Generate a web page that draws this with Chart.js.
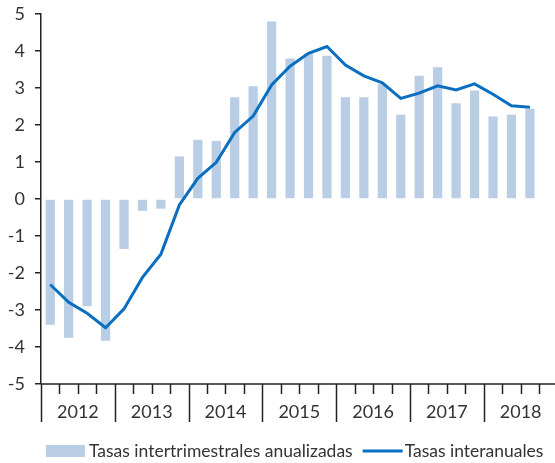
<!DOCTYPE html>
<html>
<head>
<meta charset="utf-8">
<script src="https://cdn.jsdelivr.net/npm/chart.js@4"></script>
<style>
  html, body { margin: 0; padding: 0; background: #fff; }
</style>
</head>
<body>
<canvas id="chart" width="555" height="463"></canvas>
<script>
// Data (quarterly, 2012 T1 - 2018 T3)
const years = ['2012', '2013', '2014', '2015', '2016', '2017', '2018'];
const quarterNames = ['T1', 'T2', 'T3', 'T4'];
const quarters = years.flatMap(y => quarterNames.map(q => q + ' ' + y)).slice(0, 27);
const quarterlyRates = [-3.4, -3.75, -2.9, -3.83, -1.35, -0.32, -0.26, 1.15,
  1.6, 1.57, 2.75, 3.05, 4.8, 3.8, 3.93, 3.87,
  2.75, 2.75, 3.1, 2.28, 3.33, 3.56, 2.59, 2.93,
  2.23, 2.28, 2.44];
const yearlyRates = [-2.31, -2.79, -3.09, -3.48, -2.97, -2.12, -1.49, -0.16,
  0.56, 0.99, 1.8, 2.24, 3.08, 3.59, 3.94, 4.12,
  3.62, 3.33, 3.14, 2.72, 2.86, 3.06, 2.95, 3.11,
  2.83, 2.52, 2.48];
const yTicks = [-5, -4, -3, -2, -1, 0, 1, 2, 3, 4, 5];

const FONT = 'Lato';
const TEXT = '#333';
const AXIS = '#222';

// x axis: short ticks per quarter, long ones between years, year labels in the middle
const quarterAxis = {
  id: 'quarterAxis',
  afterDraw(chart) {
    const { ctx, chartArea } = chart;
    const x = chart.scales.x;
    const bottom = chartArea.bottom;
    ctx.save();
    ctx.strokeStyle = AXIS;
    ctx.lineWidth = 1.5;
    ctx.beginPath();
    ctx.moveTo(chartArea.left, bottom);
    ctx.lineTo(chartArea.right, bottom);
    for (let q = 0; q < years.length * 4; q++) {
      const px = Math.round(x.getPixelForValue(q - 0.5)) + 0.5;
      const len = q % 4 === 0 ? 38 : 10;
      ctx.moveTo(px, bottom);
      ctx.lineTo(px, bottom + len);
    }
    ctx.stroke();

    ctx.fillStyle = TEXT;
    ctx.font = '18px ' + FONT;
    ctx.textAlign = 'center';
    ctx.textBaseline = 'middle';
    years.forEach((yr, i) => {
      ctx.fillText(yr, x.getPixelForValue(i * 4 + 1.5), bottom + 28);
    });
    ctx.restore();
  }
};

// legend drawn under the axis
const bottomLegend = {
  id: 'bottomLegend',
  afterDraw(chart) {
    const { ctx } = chart;
    const bars = chart.data.datasets.find(d => d.type === 'bar');
    const line = chart.data.datasets.find(d => d.type === 'line');
    const cy = 451;
    let cx = 46;
    ctx.save();
    ctx.font = '17.5px ' + FONT;
    ctx.textBaseline = 'middle';
    ctx.textAlign = 'left';

    ctx.fillStyle = bars.backgroundColor;
    ctx.fillRect(cx, cy - 6, 39, 12);
    cx += 43;
    ctx.fillStyle = TEXT;
    ctx.fillText(bars.label, cx, cy);
    cx += ctx.measureText(bars.label).width + 10;

    ctx.strokeStyle = line.borderColor;
    ctx.lineWidth = 3;
    ctx.beginPath();
    ctx.moveTo(cx, cy);
    ctx.lineTo(cx + 40, cy);
    ctx.stroke();
    cx += 42;
    ctx.fillText(line.label, cx, cy);
    ctx.restore();
  }
};

new Chart(document.getElementById('chart'), {
  data: {
    labels: quarters,
    datasets: [
      {
        type: 'line',
        label: 'Tasas interanuales',
        data: yearlyRates.map((v, i) => ({ x: i, y: v })),
        borderColor: '#0a6fc0',
        borderWidth: 3,
        pointRadius: 0,
        tension: 0,
        order: 0
      },
      {
        type: 'bar',
        label: 'Tasas intertrimestrales anualizadas',
        data: quarterlyRates.map((v, i) => ({ x: i, y: v })),
        backgroundColor: '#b9cde5',
        barPercentage: 0.5,
        categoryPercentage: 1,
        order: 1
      }
    ]
  },
  options: {
    responsive: false,
    animation: false,
    layout: { padding: { top: 14, bottom: 79, left: 0, right: 0 } },
    plugins: {
      legend: { display: false },
      tooltip: { enabled: false }
    },
    scales: {
      x: {
        type: 'linear',
        display: false,
        offset: false,
        min: -0.5,
        max: 27.36 // 2018 T4 slot is cut by the right edge
      },
      y: {
        min: -5,
        max: 5,
        afterBuildTicks(scale) { scale.ticks = yTicks.map(v => ({ value: v })); },
        afterFit(scale) {
          scale.width = 41;
          scale.paddingTop = 0;
          scale.paddingBottom = 0;
        },
        ticks: { color: TEXT, font: { family: FONT, size: 18 }, padding: 10 },
        grid: { drawOnChartArea: false, drawTicks: true, tickLength: 6, color: AXIS, lineWidth: 1.5 },
        border: { color: AXIS, width: 1.5 }
      }
    }
  },
  plugins: [quarterAxis, bottomLegend]
});
</script>
</body>
</html>
